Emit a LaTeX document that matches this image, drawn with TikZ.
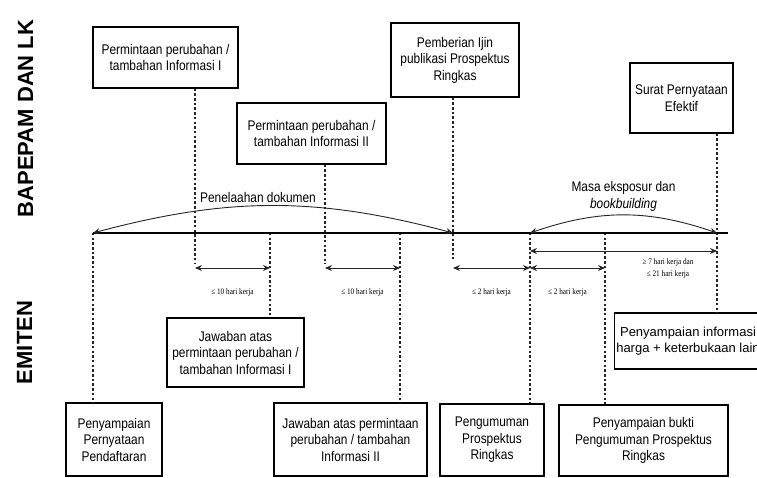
\documentclass[tikz,border=0pt]{standalone}
\usepackage{fontspec}
\setmainfont{Liberation Sans}[FakeStretch=0.85]
\newfontfamily\sidefont{Liberation Sans}
\newfontfamily\dayfont{Liberation Serif}[FakeStretch=0.85]
\usepackage{tikz}
\usetikzlibrary{calc,arrows.meta}

\begin{document}
\begin{tikzpicture}[
    x=1pt, y=-1pt,
    box/.style = {
        rectangle,
        draw=black,
        line width=1.3pt,
        align=center,
        font=\fontsize{14}{16.5}\selectfont,
        inner sep=2pt
    },
    guide/.style    = {draw=black!85, line width=1.3pt, dash pattern=on 2.5pt off 2.2pt},
    timeline/.style = {draw=black, line width=2.6pt},
    span/.style     = {{Stealth[length=7pt,width=6pt]}-{Stealth[length=7pt,width=6pt]}, line width=0.9pt, draw=black!85},
    phase/.style    = {{Stealth[length=7pt,width=6pt]}-{Stealth[length=7pt,width=6pt]}, line width=0.9pt, draw=black!85},
    phaselabel/.style = {font=\fontsize{14}{17}\selectfont, align=center, inner sep=1pt},
    daylabel/.style = {font=\dayfont\fontsize{8.5}{12}\selectfont, align=center, inner sep=1pt},
    sidelabel/.style = {font=\sidefont\bfseries\fontsize{22}{24}\selectfont, rotate=90}
]

\path[use as bounding box, fill=white] (0,0) rectangle (757,478);

% Side labels
\node[sidelabel] (bapepam) at (25.5,118.5) {BAPEPAM DAN LK};
\node[sidelabel] (emiten) at (24.5,342.5) {EMITEN};

% Upper row: BAPEPAM dan LK
\node[box, minimum width=145pt, minimum height=61pt] (req1) at (165.5,57.5) {
    Permintaan perubahan /\\tambahan Informasi I};
\node[box, minimum width=149pt, minimum height=61pt] (req2) at (311.5,133.5) {
    Permintaan perubahan /\\tambahan Informasi II};
\node[box, minimum width=128pt, minimum height=74pt] (ijin) at (455,60) {
    Pemberian Ijin\\publikasi Prospektus\\Ringkas};
\node[box, minimum width=103pt, minimum height=70pt] (efektif) at (681.5,98) {
    Surat Pernyataan\\Efektif};

% Lower row: Emiten
\node[box, minimum width=96pt, minimum height=73pt] (daftar) at (114,439.5) {
    Penyampaian\\Pernyataan\\Pendaftaran};
\node[box, minimum width=137pt, minimum height=69pt] (jawab1) at (235.5,352.5) {
    Jawaban atas\\permintaan perubahan /\\tambahan Informasi I};
\node[box, minimum width=153pt, minimum height=73pt] (jawab2) at (350.5,439.5) {
    Jawaban atas permintaan\\perubahan / tambahan\\Informasi II};
\node[box, minimum width=104pt, minimum height=72pt] (umum) at (492,440) {
    Pengumuman\\Prospektus\\Ringkas};
\node[box, minimum width=169pt, minimum height=71pt] (bukti) at (643.5,440.5) {
    Penyampaian bukti\\Pengumuman Prospektus\\Ringkas};
\node[box, minimum width=140pt, minimum height=56pt,
      font=\sidefont\fontsize{13}{16}\selectfont] (harga) at (688,341) {
    Penyampaian informasi\\harga + keterbukaan lain};

% Time points on the main line
\coordinate (t0) at (93,233);
\coordinate (t1) at (195,233);
\coordinate (t2) at (270,233);
\coordinate (t3) at (325,233);
\coordinate (t4) at (400,233);
\coordinate (t5) at (453,233);
\coordinate (t6) at (530,233);
\coordinate (t7) at (605,233);
\coordinate (t8) at (717,233);
\coordinate (tend) at (728,233);

% Feet of the short guides
\coordinate (f1) at ($(t1)+(0,31)$);
\coordinate (f3) at ($(t3)+(0,31)$);
\coordinate (f5) at ($(t5)+(0,26)$);

% Guides from the boxes to the time line
\draw[guide] (t0) -- (daftar.north -| t0);
\draw[guide] (req1.south -| t1) -- (f1);
\draw[guide] (t2) -- (jawab1.north -| t2);
\draw[guide] (req2.south -| t3) -- (f3);
\draw[guide] (t4) -- (jawab2.north -| t4);
\draw[guide] (ijin.south -| t5) -- (f5);
\draw[guide] (t6) -- (umum.north -| t6);
\draw[guide] (t7) -- (bukti.north -| t7);
\draw[guide] (efektif.south -| t8) -- (harga.north -| t8);

% Main time line
\draw[timeline] (t0) -- (tend);

% Phases above the line
\draw[phase] (t0) to[bend left=15]
    node[phaselabel, above=2pt, xshift=-15pt] (telaah) {Penelaahan dokumen} (t5);
\draw[phase] (t6) to[bend left=19]
    node[phaselabel, above=2pt] (masa) {Masa eksposur dan\\\textit{bookbuilding}} (t8);

% Time limits below the line
\draw[span] ($(t1)+(0,35)$) -- node[daylabel, below=19pt] (lim1) {≤ 10 hari kerja} ($(t2)+(0,35)$);
\draw[span] ($(t3)+(0,35)$) -- node[daylabel, below=19pt] (lim2) {≤ 10 hari kerja} ($(t4)+(0,35)$);
\draw[span] ($(t5)+(0,35)$) -- node[daylabel, below=19pt] (lim3) {≤ 2 hari kerja} ($(t6)+(0,35)$);
\draw[span] ($(t6)+(0,35)$) -- node[daylabel, below=19pt] (lim4) {≤ 2 hari kerja} ($(t7)+(0,35)$);
\draw[span] ($(t6)+(0,18)$) -- ($(t8)+(0,18)$);
\node[daylabel] (lim5) at (668,268) {≥ 7 hari kerja dan\\≤ 21 hari kerja};

\end{tikzpicture}
\end{document}
